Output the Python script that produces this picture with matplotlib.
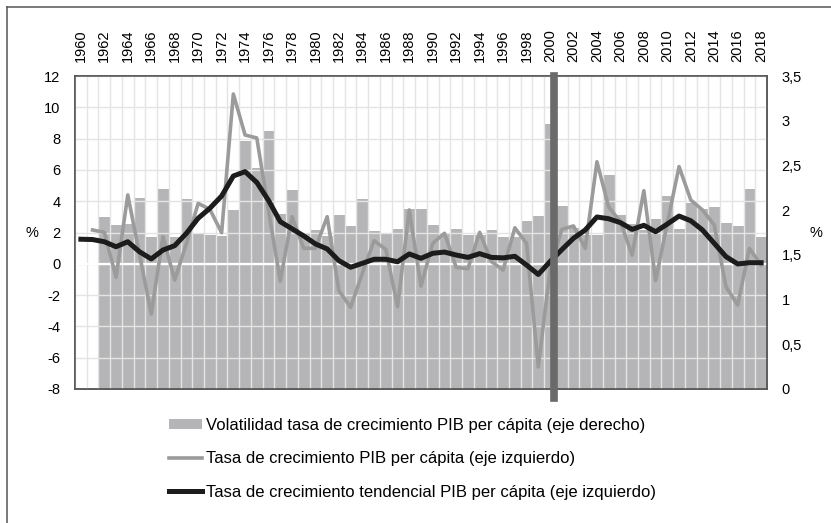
import numpy as np
import matplotlib
matplotlib.use("Agg")
import matplotlib.pyplot as plt
from matplotlib.lines import Line2D

plt.rcParams["font.family"] = ["Liberation Sans", "DejaVu Sans"]
plt.rcParams["axes.unicode_minus"] = False

years = list(range(1960, 2019))
nan = np.nan
# volatilidad (eje derecho)
volatilidad = [nan, nan, 1.92, 1.83, 1.85, 2.14, 1.70, 2.24, 1.70, 2.12,
               1.74, 1.72, 1.71, 2.00, 2.77, 2.47, 2.89, 1.96, 2.23, 1.74,
               1.78, 1.71, 1.95, 1.82, 2.13, 1.77, 1.74, 1.79, 2.01, 2.01,
               1.83, 1.74, 1.79, 1.72, 1.72, 1.78, 1.70, 1.70, 1.88, 1.94,
               2.96, 2.05, 1.80, 1.72, 1.72, 2.39, 1.95, 1.84, 1.78, 1.90,
               2.16, 1.79, 2.08, 2.01, 2.03, 1.86, 1.82, 2.24, 1.70]
# tasa de crecimiento (eje izquierdo)
crecimiento = [nan, 2.16, 2.01, -0.86, 4.40, 0.6, -3.21, 1.73, -1.04, 1.3,
               3.86, 3.48, 1.99, 10.85, 8.23, 8.04, 3.4, -1.1, 3.01, 0.99,
               0.99, 3.01, -1.72, -2.78, -0.6, 1.48, 0.92, -2.74, 3.44, -1.42,
               1.31, 1.95, -0.23, -0.31, 2.01, 0.14, -0.40, 2.3, 1.3, -6.59,
               -0.4, 2.2, 2.42, 0.99, 6.52, 3.63, 2.69, 0.56, 4.67, -1.08,
               2.59, 6.21, 4.08, 3.44, 2.48, -1.46, -2.63, 0.99, -0.08]
# tendencia (eje izquierdo)
tendencia = [1.57, 1.55, 1.41, 1.09, 1.41, 0.77, 0.31, 0.88, 1.16, 1.95,
             2.91, 3.55, 4.33, 5.61, 5.89, 5.2, 4.05, 2.69, 2.24, 1.78,
             1.27, 0.95, 0.20, -0.22, 0.03, 0.29, 0.29, 0.13, 0.63, 0.35,
             0.67, 0.75, 0.56, 0.41, 0.65, 0.41, 0.38, 0.48, -0.08, -0.68,
             0.14, 0.9, 1.63, 2.16, 2.99, 2.88, 2.63, 2.20, 2.46, 2.05,
             2.54, 3.05, 2.75, 2.16, 1.31, 0.46, -0.01, 0.07, 0.07]
left_ticks = [-8, -6, -4, -2, 0, 2, 4, 6, 8, 10, 12]
right_ticks = [0, 0.5, 1, 1.5, 2, 2.5, 3, 3.5]
right_labels = ["0", "0,5", "1", "1,5", "2", "2,5", "3", "3,5"]

x = np.arange(len(years))

fig = plt.figure(figsize=(8.31, 5.23), dpi=100)
ax = fig.add_axes([75/831, 1-389/523, 692/831, 313/523])
ax2 = ax.twinx()
ax2.set_zorder(ax.get_zorder() - 1)
ax.patch.set_visible(False)

bars = ax2.bar(x, volatilidad, width=1.0, color="#b5b5b7", linewidth=0,
               label="Volatilidad tasa de crecimiento PIB per cápita (eje derecho)")
ax2.set_ylim(0, 3.5)
ax2.set_yticks(right_ticks)
ax2.set_yticklabels(right_labels)

l1, = ax.plot(x, crecimiento, color="#9b9b9b", lw=2.6, zorder=3,
              label="Tasa de crecimiento PIB per cápita (eje izquierdo)")
l2, = ax.plot(x, tendencia, color="#1c1c1c", lw=3.6, zorder=4,
              label="Tasa de crecimiento tendencial PIB per cápita (eje izquierdo)")
ax.axvline(40.3, ymin=-0.03, ymax=1, color="#6a6a6a", lw=5.5, zorder=5, clip_on=False)

ax.set_xlim(-0.5, len(years) - 0.5)
ax.set_ylim(-8, 12)
ax.set_yticks(left_ticks)
ax.set_xticks(x[::2])
ax.set_xticklabels([str(y) for y in years[::2]], rotation=90)
ax.set_xticks(np.arange(-0.5, len(years), 1), minor=True)
ax.xaxis.tick_top()
ax.tick_params(axis="x", which="both", length=0, pad=10, labelsize=10.5)
ax.tick_params(axis="y", length=0, pad=10.5, labelsize=10.5)
ax2.tick_params(axis="y", length=0, pad=10.5, labelsize=10.5)

ax.grid(axis="y", color="#e4e4e4", lw=1.0)
ax.grid(axis="x", which="minor", color="#e4e4e4", lw=1.0)
ax.axhline(0, color="white", lw=1.6, zorder=2.5)

for a in (ax, ax2):
    for s in a.spines.values():
        s.set_color("#555555")
        s.set_linewidth(1.1)

fig.text(32/831, 1-233/523, "%", fontsize=10.5, ha="center", va="center")
fig.text(816/831, 1-233/523, "%", fontsize=10.5, ha="center", va="center")

fig.legend(handles=[bars, l1, l2], loc="upper left", bbox_to_anchor=(169/831, 1-418/523),
           frameon=False, fontsize=12, handlelength=2.0, handletextpad=0.25,
           labelspacing=1.1, handleheight=0.55, borderpad=0, borderaxespad=0)

fig.add_artist(Line2D([7/831, 7/831], [0, 1-7/523], color="#555555", lw=1.1))
fig.add_artist(Line2D([7/831, 1], [1-7/523, 1-7/523], color="#555555", lw=1.1))

fig.savefig("out.png", dpi=100)
